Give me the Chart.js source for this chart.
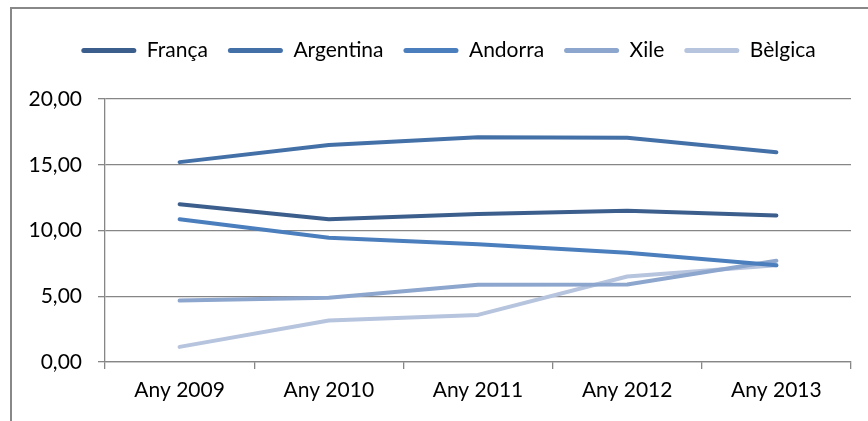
<!DOCTYPE html>
<html>
<head>
<meta charset="utf-8">
<script src="https://cdn.jsdelivr.net/npm/chart.js@4"></script>
<style>
html,body{margin:0;padding:0;background:#fff;overflow:hidden;}
#frame{position:absolute;left:10px;top:7px;width:900px;height:500px;border-left:2px solid #888;border-top:2px solid #888;}
#wrap{position:absolute;left:0;top:0;width:868px;height:421px;}
</style>
</head>
<body>
<div id="frame"></div>
<div id="wrap"><canvas id="c" width="868" height="421"></canvas></div>
<script>
const categories = ["Any 2009", "Any 2010", "Any 2011", "Any 2012", "Any 2013"];
const franca    = [12.0, 10.85, 11.25, 11.5, 11.15];
const argentina = [15.2, 16.5, 17.1, 17.05, 15.95];
const andorra   = [10.85, 9.45, 8.95, 8.3, 7.35];
const xile      = [4.67, 4.88, 5.87, 5.9, 7.7];
const belgica   = [1.15, 3.15, 3.58, 6.5, 7.35];
const seriesNames = ["França", "Argentina", "Andorra", "Xile", "Bèlgica"];
const colors = ["#3B5E8C", "#4470A8", "#4B7EBD", "#8DA6CD", "#B7C4DE"];
const yTicks = [0, 5, 10, 15, 20];

const seriesData = [franca, argentina, andorra, xile, belgica];
const datasets = seriesData.map((d, i) => ({
  label: seriesNames[i],
  data: d,
  borderColor: colors[i],
  backgroundColor: colors[i],
  borderWidth: 4,
  pointRadius: 0,
  pointHoverRadius: 0,
  tension: 0,
  borderCapStyle: 'round',
  borderJoinStyle: 'round'
}));

const FONT = "Lato, 'Open Sans', sans-serif";

const legendTweak = {
  id: 'legendTweak',
  beforeLayout(chart) {
    const lg = chart.legend;
    if (lg && !lg._patched) {
      const orig = lg.fit;
      lg.fit = function () { orig.call(this); this.height += 28; };
      lg._patched = true;
    }
  },
  afterLayout(chart) {
    const lg = chart.legend;
    if (lg) { lg.left = 46; lg.right = 851; }
  }
};

new Chart(document.getElementById('c'), {
  type: 'line',
  data: { labels: categories, datasets },
  plugins: [legendTweak],
  options: {
    responsive: false,
    animation: false,
    events: [],
    layout: { padding: { left: 0, right: 17, top: 20, bottom: 0 } },
    plugins: {
      tooltip: { enabled: false },
      legend: {
        position: 'top',
        labels: {
          boxWidth: 55,
          boxHeight: 5,
          useBorderRadius: true,
          borderRadius: 2.5,
          padding: 20,
          color: '#000',
          font: { family: FONT, size: 21 },
          generateLabels(chart) {
            const items = Chart.defaults.plugins.legend.labels.generateLabels(chart);
            items.forEach(it => { it.lineWidth = 0; it.strokeStyle = 'rgba(0,0,0,0)'; });
            return items;
          }
        }
      }
    },
    scales: {
      x: {
        offset: true,
        grid: { offset: true, drawOnChartArea: false, drawTicks: true, tickLength: 7, color: '#868686', lineWidth: 1.3 },
        border: { color: '#868686', width: 1.3 },
        ticks: { color: '#000', font: { family: FONT, size: 21 }, padding: 9, maxRotation: 0 },
        afterFit(s) { s.height = 59; }
      },
      y: {
        min: 0, max: 20,
        afterBuildTicks(s) { s.ticks = yTicks.map(v => ({ value: v })); },
        grid: { color: '#868686', lineWidth: 1.3, tickLength: 7 },
        border: { color: '#868686', width: 1.3 },
        ticks: {
          color: '#000', font: { family: FONT, size: 21 }, padding: 16,
          callback: v => v.toFixed(2).replace('.', ',')
        },
        afterFit(s) { s.width = 105; }
      }
    }
  }
});
</script>
</body>
</html>
